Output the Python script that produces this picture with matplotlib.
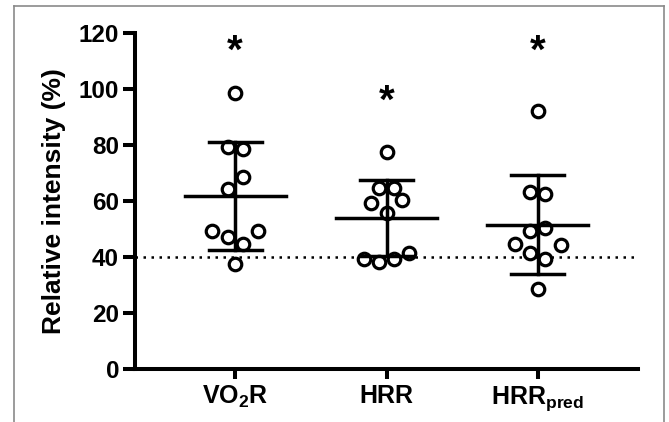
import numpy as np
import matplotlib
matplotlib.use("Agg")
import matplotlib.pyplot as plt
from matplotlib.lines import Line2D

plt.rcParams["font.family"] = ["Liberation Sans", "DejaVu Sans"]
plt.rcParams["font.weight"] = "bold"
plt.rcParams["mathtext.fontset"] = "custom"
plt.rcParams["mathtext.rm"] = "Liberation Sans:bold"
plt.rcParams["mathtext.bf"] = "Liberation Sans:bold"

# Dados (intensidade relativa, %)
grupos = [r"$\mathbf{VO}_\mathbf{2}\mathbf{R}$", "HRR", r"$\mathbf{HRR}_\mathbf{pred}$"]
vo2r = [98.5, 79.2, 78.4, 68.7, 64.4, 49.4, 47.3, 49.4, 44.6, 37.5]
hrr = [77.4, 64.5, 64.5, 59.2, 60.4, 55.6, 39.2, 38.3, 39.2, 41.5]
hrr_pred = [92.3, 63.3, 62.5, 49.3, 50.2, 44.5, 44.3, 41.5, 39.3, 28.5]
asteriscos_y = [113.3, 95.5, 113.3]
limiar = 40
yticks = [0, 20, 40, 60, 80, 100, 120]

# deslocamento horizontal dos pontos (layout tipo "column scatter")
desloc = [
    [0, -0.05, 0.05, 0.05, -0.05, -0.15, -0.05, 0.15, 0.05, 0],
    [0, -0.05, 0.05, -0.10, 0.10, 0, -0.15, -0.05, 0.05, 0.15],
    [0, -0.05, 0.05, -0.05, 0.05, -0.15, 0.15, -0.05, 0.05, 0],
]

fig = plt.figure(figsize=(6.69, 4.22), dpi=100)
ax = fig.add_axes([0.2018, 0.1256, 0.7519, 0.7962])

for i, vals in enumerate([vo2r, hrr, hrr_pred]):
    v = np.array(vals)
    xs = i + np.array(desloc[i])
    ax.plot(xs, v, "o", ms=9, mfc="white", mec="black", mew=2.3, zorder=3, clip_on=False)
    media = v.mean()
    dp = v.std(ddof=1)
    ax.plot([i, i], [media - dp, media + dp], color="black", lw=2.5, zorder=4)
    ax.plot([i - 0.175, i + 0.175], [media + dp] * 2, color="black", lw=2.5, zorder=4)
    ax.plot([i - 0.175, i + 0.175], [media - dp] * 2, color="black", lw=2.5, zorder=4)
    ax.plot([i - 0.333, i + 0.333], [media] * 2, color="black", lw=2.5, zorder=4)
    ax.text(i, asteriscos_y[i], "*", ha="center", va="center", fontsize=29, fontweight="bold")

ax.axhline(limiar, color="black", lw=1.8, ls=(0, (1, 2.2)), zorder=2)

ax.set_xlim(-0.662, 2.662)
ax.set_ylim(0, 120)
ax.set_yticks(yticks)
ax.set_xticks(range(3))
ax.set_xticklabels(grupos)
ax.set_ylabel("Relative intensity (%)", fontsize=19, fontweight="bold", labelpad=9)

for lado in ["top", "right"]:
    ax.spines[lado].set_visible(False)
for lado in ["left", "bottom"]:
    ax.spines[lado].set_linewidth(2.9)
ax.tick_params(axis="y", length=8.5, width=2.9, labelsize=17.5, pad=3)
ax.tick_params(axis="x", length=7, width=2.9, labelsize=18, pad=4)

# moldura cinza da figura (sem lado inferior)
W, H = 669, 422
moldura = dict(color="#8a8a8a", lw=1.2, transform=fig.transFigure)
fig.add_artist(Line2D([14 / W, 14 / W], [0, 1 - 6 / H], **moldura))
fig.add_artist(Line2D([14 / W, 664 / W], [1 - 6 / H, 1 - 6 / H], **moldura))
fig.add_artist(Line2D([664 / W, 664 / W], [0, 1 - 6 / H], **moldura))

fig.savefig("out.png", dpi=100)
